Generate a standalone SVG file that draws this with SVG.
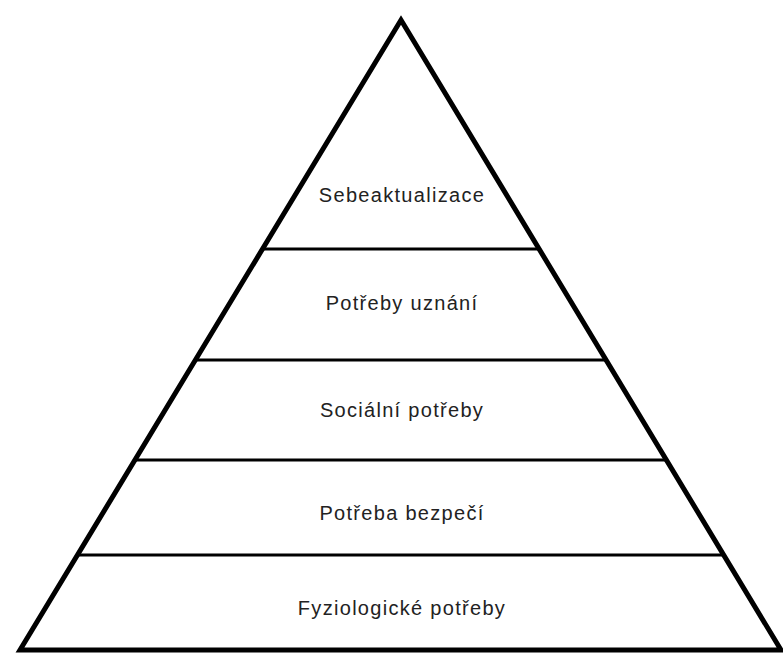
<svg xmlns="http://www.w3.org/2000/svg" width="783" height="653" viewBox="0 0 783 653">
<style>
.side{fill:none;stroke:#000;stroke-width:5;stroke-linejoin:miter}
.div{stroke:#000;stroke-width:3}
.lbl{font-family:"Liberation Sans",Arial,sans-serif;font-size:20px;letter-spacing:1.3px;fill:#222;text-anchor:middle}
</style>
<rect width="783" height="653" fill="#fff"/>
<g id="pyramid">
<polygon class="side" points="401,20 781,650 20,650"/>
</g>
<g id="connectors">
<line class="div" x1="262" y1="249" x2="540" y2="249"/>
<line class="div" x1="195" y1="360" x2="607" y2="360"/>
<line class="div" x1="134" y1="460" x2="668" y2="460"/>
<line class="div" x1="77" y1="555" x2="725" y2="555"/>
</g>
<g id="n1"><text class="lbl" x="402" y="202">Sebeaktualizace</text></g>
<g id="n2"><text class="lbl" x="402" y="310">Potřeby uznání</text></g>
<g id="n3"><text class="lbl" x="402" y="417">Sociální potřeby</text></g>
<g id="n4"><text class="lbl" x="402" y="520">Potřeba bezpečí</text></g>
<g id="n5"><text class="lbl" x="402" y="615">Fyziologické potřeby</text></g>
</svg>
